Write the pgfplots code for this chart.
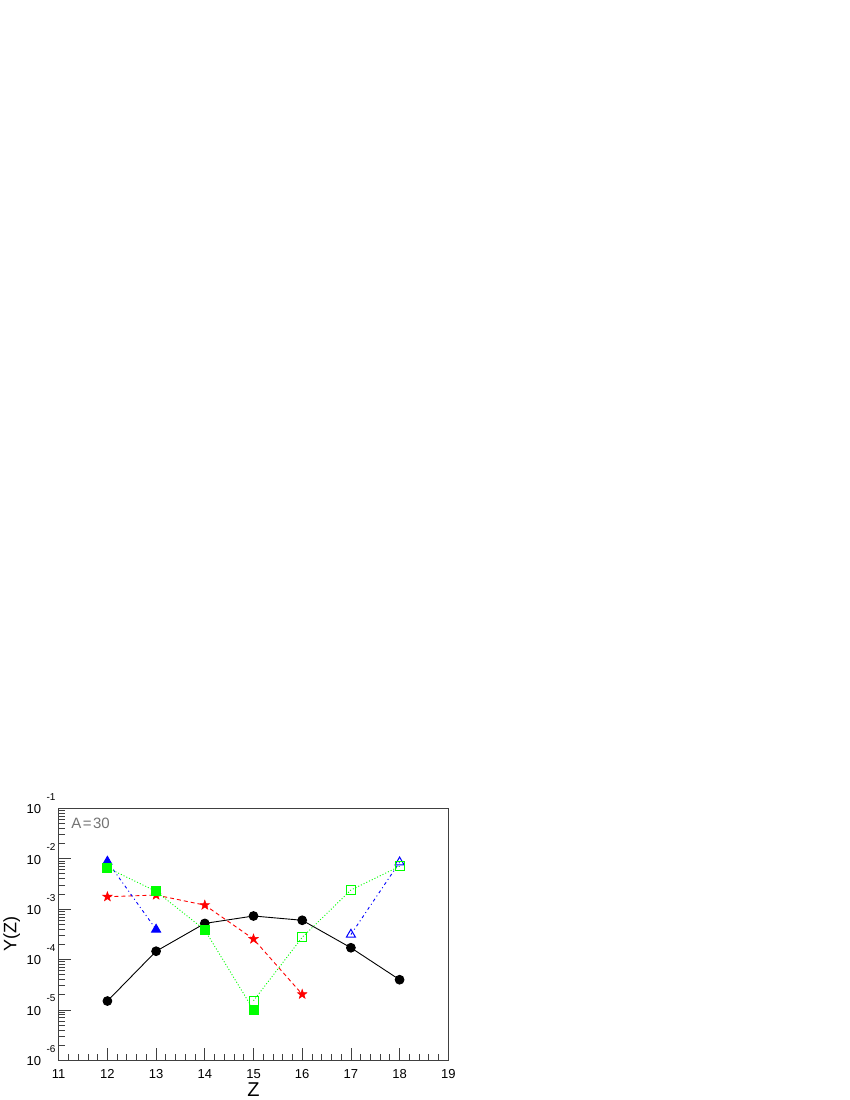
\documentclass[border=0pt]{standalone}
\usepackage{fontspec}
\setmainfont{Liberation Sans}
\usepackage{pgfplots}
\pgfplotsset{compat=1.18}

% ROOT-style tick label: 10 with the exponent set off to the upper right
\newcommand{\tenexp}[1]{10\rlap{\hspace{5.5pt}\raisebox{13.3pt}{\fontsize{10}{10}\selectfont #1}}}

% filled five-pointed star
\pgfdeclareplotmark{fstar}{%
  \pgfpathmoveto{\pgfpointpolar{90}{\pgfplotmarksize}}%
  \pgfpathlineto{\pgfpointpolar{126}{0.4\pgfplotmarksize}}%
  \pgfpathlineto{\pgfpointpolar{162}{\pgfplotmarksize}}%
  \pgfpathlineto{\pgfpointpolar{198}{0.4\pgfplotmarksize}}%
  \pgfpathlineto{\pgfpointpolar{234}{\pgfplotmarksize}}%
  \pgfpathlineto{\pgfpointpolar{270}{0.4\pgfplotmarksize}}%
  \pgfpathlineto{\pgfpointpolar{306}{\pgfplotmarksize}}%
  \pgfpathlineto{\pgfpointpolar{342}{0.4\pgfplotmarksize}}%
  \pgfpathlineto{\pgfpointpolar{18}{\pgfplotmarksize}}%
  \pgfpathlineto{\pgfpointpolar{54}{0.4\pgfplotmarksize}}%
  \pgfpathclose
  \pgfusepathqfillstroke}

\begin{document}
\begin{tikzpicture}
\path (0,0) rectangle (850pt,1100pt);
\begin{axis}[
    at={(58.7pt,39.7pt)}, anchor=south west,
    scale only axis, width=389.6pt, height=252pt,
    xmin=11, xmax=19, ymin=1e-6, ymax=1e-1, ymode=log,
    xtick={11,12,13,14,15,16,17,18,19},
    xticklabels={11,12,13,14,15,16,17,18,19},
    minor x tick num=4,
    ytick={1e-6,1e-5,1e-4,1e-3,1e-2,1e-1},
    yticklabels={\tenexp{-6},\tenexp{-5},\tenexp{-4},\tenexp{-3},\tenexp{-2},\tenexp{-1}},
    tick align=inside, tick pos=left,
    major tick length=12pt, minor tick length=6pt,
    axis line style={black!75, line width=1pt},
    every tick/.style={black!75, line width=0.8pt},
    xticklabel style={font=\fontsize{13}{13}\selectfont, inner sep=0pt, anchor=north, yshift=-9pt},
    yticklabel style={font=\fontsize{13}{13}\selectfont, inner sep=0pt, anchor=base east, xshift=-17.4pt, yshift=-5.3pt},
    clip=false,
]
% black: solid, filled circles
\addplot[black, line width=0.9pt, mark=*, mark size=4.4pt, mark options={solid}]
    coordinates {(12,1.5e-5)(13,1.46e-4)(14,5.2e-4)(15,7.3e-4)(16,6.0e-4)(17,1.71e-4)(18,3.97e-5)};
% red: dashed, stars
\addplot[red, line width=0.9pt, dash pattern=on 4pt off 3pt, mark=fstar, mark size=5pt,
    mark options={solid, fill=red, line width=0.5pt}]
    coordinates {(12,1.76e-3)(13,1.9e-3)(14,1.2e-3)(15,2.55e-4)(16,2.04e-5)};
% blue: dash-dot, triangles
\addplot[blue, line width=0.9pt, dash pattern=on 3pt off 3pt on 1pt off 3pt, mark=triangle*, mark size=5.2pt,
    mark options={solid}]
    coordinates {(12,8.8e-3)(13,3.94e-4)};
\addplot[blue, line width=0.9pt, dash pattern=on 3pt off 3pt on 1pt off 3pt, mark=triangle, mark size=5.2pt,
    mark options={solid, line width=1pt}]
    coordinates {(17,3.13e-4)(18,8.5e-3)};
% green: dotted, squares
\addplot[green, line width=0.9pt, dash pattern=on 1pt off 2pt, mark=square*, mark size=4.5pt,
    mark options={solid}]
    coordinates {(12,6.6e-3)(13,2.25e-3)(14,3.85e-4)(15,1.0e-5)};
\addplot[green, line width=0.9pt, dash pattern=on 1pt off 2pt, mark=square, mark size=4.5pt,
    mark options={solid, line width=1pt}]
    coordinates {(15,1.52e-5)(16,2.75e-4)(17,2.39e-3)(18,7.06e-3)};

\node[anchor=north west, inner sep=0pt, text=black!55, font=\fontsize{15}{15}\selectfont]
    at (rel axis cs:0.032,0.962) {A\hspace{1.5pt}=\hspace{1.5pt}30};
\node[anchor=north, inner sep=0pt, font=\fontsize{20}{20}\selectfont]
    at ([yshift=-22.7pt]rel axis cs:0.5,0) {Z};
\node[rotate=90, anchor=base, inner sep=0pt, font=\fontsize{18}{18}\selectfont]
    at ([xshift=-42.2pt]rel axis cs:0,0.5) {Y(Z)};
\end{axis}
\end{tikzpicture}
\end{document}
